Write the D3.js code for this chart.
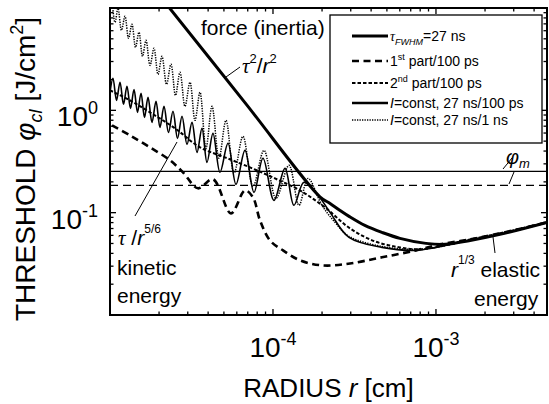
<!DOCTYPE html>
<html>
<head>
<meta charset="utf-8">
<script src="https://cdn.jsdelivr.net/npm/d3@7"></script>
<style>
body { margin: 0; background: #fff; }
svg text { font-family: "Liberation Sans", Arial, Helvetica, sans-serif; fill: #000; }
</style>
</head>
<body>
<script>
// radius r [cm] , threshold phi_cl [J/cm^2]

// tau_FWHM = 27 ns : force (inertia) line tau^2/r^2, then elastic branch
var tauFwhm = [
    [2.2e-5, 11.1], [6.73e-5, 1.19], [1.94e-4, 0.143], [2.24e-4, 0.123], [2.58e-4, 0.105],
    [2.93e-4, 0.092], [3.66e-4, 0.0751], [4.66e-4, 0.0642], [6.01e-4, 0.0561],
    [8.68e-4, 0.0501], [1.14e-3, 0.0490], [1.62e-3, 0.0535], [2.47e-3, 0.0614], [4.8e-3, 0.0804]
];

// 1st part / 100 ps
var part1 = [
    [1.029e-5, 0.714], [1.326e-5, 0.570], [1.760e-5, 0.435], [2.334e-5, 0.325], [2.804e-5, 0.248],
    [3.467e-5, 0.173], [4.284e-5, 0.212], [5.524e-5, 0.0985], [6.733e-5, 0.165], [7.540e-5, 0.141],
    [8.323e-5, 0.0841], [9.585e-5, 0.0536], [1.152e-4, 0.0428], [1.464e-4, 0.0342],
    [2.026e-4, 0.0305], [2.968e-4, 0.0319], [4.665e-4, 0.0366], [7.54e-4, 0.0428],
    [1.058e-3, 0.0490], [1.617e-3, 0.0548], [2.47e-3, 0.0628], [4.8e-3, 0.0804]
];

// 2nd part / 100 ps
var part2 = [
    [1.0e-5, 1.568], [1.326e-5, 1.252], [1.760e-5, 0.956], [2.505e-5, 0.667], [3.566e-5, 0.435],
    [5.076e-5, 0.347], [7.225e-5, 0.277], [1.029e-4, 0.216], [1.464e-4, 0.165], [2.084e-4, 0.1126],
    [2.968e-4, 0.0702], [4.225e-4, 0.0524], [6.013e-4, 0.0458], [7.98e-4, 0.0438],
    [1.058e-3, 0.0468], [1.617e-3, 0.0548], [2.47e-3, 0.0628], [4.8e-3, 0.0804]
];

// I = const, 27 ns / 100 ps
var iConst100ps = [
    [1.000e-5, 1.50], [1.043e-5, 2.06], [1.096e-5, 1.25], [1.152e-5, 1.88], [1.210e-5, 1.145],
    [1.271e-5, 1.72], [1.336e-5, 1.046], [1.404e-5, 1.60], [1.475e-5, 0.956], [1.550e-5, 1.47],
    [1.628e-5, 0.854], [1.711e-5, 1.34], [1.810e-5, 0.763], [1.915e-5, 1.224], [2.026e-5, 0.682],
    [2.144e-5, 1.094], [2.285e-5, 0.609], [2.435e-5, 0.978], [2.595e-5, 0.532], [2.766e-5, 0.874],
    [2.968e-5, 0.465], [3.185e-5, 0.763], [3.418e-5, 0.388], [3.668e-5, 0.667], [3.937e-5, 0.310],
    [4.284e-5, 0.596], [4.730e-5, 0.248], [5.296e-5, 0.476], [5.929e-5, 0.189], [6.733e-5, 0.406],
    [7.646e-5, 0.158], [8.684e-5, 0.340], [1.014e-4, 0.132], [1.185e-4, 0.271], [1.345e-4, 0.118],
    [1.549e-4, 0.198], [1.889e-4, 0.148], [2.238e-4, 0.1007], [2.926e-4, 0.0574],
    [4.665e-4, 0.0458], [7.54e-4, 0.0428], [1.0e-3, 0.0458], [1.404e-3, 0.0513],
    [2.47e-3, 0.0614], [4.8e-3, 0.0804]
];

// I = const, 27 ns / 1 ns
var iConst1ns = [
    [1.029e-5, 11.89], [1.073e-5, 7.25], [1.120e-5, 9.93], [1.176e-5, 6.05], [1.236e-5, 8.30],
    [1.299e-5, 5.06], [1.364e-5, 6.93], [1.434e-5, 4.13], [1.506e-5, 5.79], [1.583e-5, 3.37],
    [1.663e-5, 4.83], [1.760e-5, 2.75], [1.862e-5, 4.04], [1.970e-5, 2.25], [2.084e-5, 3.37],
    [2.222e-5, 1.796], [2.367e-5, 2.82], [2.523e-5, 1.401], [2.688e-5, 2.35], [2.885e-5, 1.094],
    [3.096e-5, 1.878], [3.323e-5, 0.798], [3.566e-5, 1.500], [3.881e-5, 0.425], [4.226e-5, 1.094],
    [4.664e-5, 0.340], [5.149e-5, 0.798], [5.765e-5, 0.242], [6.546e-5, 0.557], [7.540e-5, 0.181],
    [8.807e-5, 0.406], [1.043e-4, 0.138], [1.254e-4, 0.290], [1.444e-4, 0.118], [1.640e-4, 0.216],
    [1.998e-4, 0.118], [2.402e-4, 0.0804], [2.926e-4, 0.0587], [4.665e-4, 0.0468],
    [7.54e-4, 0.0438], [1.0e-3, 0.0458], [1.404e-3, 0.0513], [2.47e-3, 0.0614], [4.8e-3, 0.0804]
];

// horizontal levels phi_m
var phiMSolid = 0.253;
var phiMDashed = 0.185;

var xDomain = [1e-5, 4.8e-3];
var yDomain = [0.01, 10];
var xTickLabels = [["10", "-4", 1e-4], ["10", "-3", 1e-3]];
var yTickLabels = [["10", "0", 1], ["10", "-1", 0.1]];

var series = [
    { data: part2, width: 2, dash: "3.5,2" },
    { data: iConst1ns, width: 1.5, dash: "1.3,1.2" },
    { data: iConst100ps, width: 1.6, dash: null },
    { data: part1, width: 2.6, dash: "7,4.5" },
    { data: tauFwhm, width: 3, dash: null }
];

var legendRows = [
    { width: 3, dash: null },
    { width: 2.6, dash: "7,4.5" },
    { width: 2, dash: "3.5,2" },
    { width: 2.6, dash: null },
    { width: 1.3, dash: "1.3,1.2" }
];

var W = 549, H = 404;
var pLeft = 110, pRight = 547, pTop = 8, pBottom = 315;

var svg = d3.select("body").append("svg")
    .attr("width", W)
    .attr("height", H);

var x = d3.scaleLog().domain(xDomain).range([pLeft, pRight]);
var y = d3.scaleLog().domain(yDomain).range([pBottom, pTop]);

svg.append("clipPath").attr("id", "plotclip")
    .append("rect")
    .attr("x", pLeft).attr("y", pTop)
    .attr("width", pRight - pLeft).attr("height", pBottom - pTop);

var plot = svg.append("g").attr("clip-path", "url(#plotclip)");

// phi_m lines
plot.append("line")
    .attr("x1", pLeft).attr("x2", pRight)
    .attr("y1", y(phiMSolid)).attr("y2", y(phiMSolid))
    .attr("stroke", "#000").attr("stroke-width", 1.4);
plot.append("line")
    .attr("x1", pLeft).attr("x2", pRight)
    .attr("y1", y(phiMDashed)).attr("y2", y(phiMDashed))
    .attr("stroke", "#000").attr("stroke-width", 1.4)
    .attr("stroke-dasharray", "8,5");

var line = d3.line()
    .x(function(d) { return x(d[0]); })
    .y(function(d) { return y(d[1]); })
    .curve(d3.curveCatmullRom.alpha(0.5));

series.forEach(function(s) {
    plot.append("path")
        .attr("d", line(s.data))
        .attr("fill", "none")
        .attr("stroke", "#000")
        .attr("stroke-width", s.width)
        .attr("stroke-linejoin", "round")
        .attr("stroke-dasharray", s.dash);
});

// frame
svg.append("rect")
    .attr("x", pLeft).attr("y", pTop)
    .attr("width", pRight - pLeft).attr("height", pBottom - pTop)
    .attr("fill", "none").attr("stroke", "#000").attr("stroke-width", 2);

function isMajor(d) {
    var l = Math.log10(d);
    return Math.abs(l - Math.round(l)) < 1e-6;
}

var ticks = svg.append("g").attr("stroke", "#000").attr("stroke-width", 1.3);
x.ticks().forEach(function(d) {
    var len = isMajor(d) ? 6 : 3.5, px = x(d);
    ticks.append("line").attr("x1", px).attr("x2", px).attr("y1", pBottom).attr("y2", pBottom - len);
    ticks.append("line").attr("x1", px).attr("x2", px).attr("y1", pTop).attr("y2", pTop + len);
});
y.ticks().forEach(function(d) {
    var len = isMajor(d) ? 6 : 3.5, py = y(d);
    ticks.append("line").attr("y1", py).attr("y2", py).attr("x1", pLeft).attr("x2", pLeft + len);
    ticks.append("line").attr("y1", py).attr("y2", py).attr("x1", pRight).attr("x2", pRight - len);
});

// tick labels
xTickLabels.forEach(function(t) {
    var tx = svg.append("text")
        .attr("x", x(t[2])).attr("y", 357)
        .attr("text-anchor", "middle")
        .style("font-size", "28px");
    tx.append("tspan").text(t[0]);
    tx.append("tspan").attr("dy", -12).style("font-size", "18px").text(t[1]);
});
yTickLabels.forEach(function(t) {
    var ty = svg.append("text")
        .attr("x", 98).attr("y", y(t[2]) + 16)
        .attr("text-anchor", "end")
        .style("font-size", "28px");
    ty.append("tspan").text(t[0]);
    ty.append("tspan").attr("dy", -12).style("font-size", "18px").text(t[1]);
});

// axis titles
var xt = svg.append("text")
    .attr("x", (pLeft + pRight) / 2).attr("y", 397)
    .attr("text-anchor", "middle")
    .style("font-size", "26px");
xt.append("tspan").text("RADIUS ");
xt.append("tspan").style("font-style", "italic").text("r");
xt.append("tspan").text(" [cm]");

var yt = svg.append("text")
    .attr("transform", "translate(35,169) rotate(-90)")
    .attr("text-anchor", "middle")
    .style("font-size", "28px");
yt.append("tspan").text("THRESHOLD ");
yt.append("tspan").style("font-style", "italic").text("\u03C6");
yt.append("tspan").attr("dy", 7).style("font-size", "18px").style("font-style", "italic").text("cl");
yt.append("tspan").attr("dy", -7).text(" [J/cm");
yt.append("tspan").attr("dy", -12).style("font-size", "18px").text("2");
yt.append("tspan").attr("dy", 12).text("]");

// annotations
var ann = svg.append("g");
ann.append("text").attr("x", 201).attr("y", 35).style("font-size", "21px").text("force (inertia)");

var t1 = ann.append("text").attr("x", 242).attr("y", 73).style("font-size", "21px");
t1.append("tspan").style("font-family", "'Liberation Serif', serif").style("font-style", "italic").text("\u03C4");
t1.append("tspan").attr("dy", -10).style("font-size", "13px").text("2");
t1.append("tspan").attr("dy", 10).text("/");
t1.append("tspan").style("font-style", "italic").text("r");
t1.append("tspan").attr("dy", -10).style("font-size", "13px").text("2");

var t2 = ann.append("text").attr("x", 118).attr("y", 245).style("font-size", "21px");
t2.append("tspan").style("font-family", "'Liberation Serif', serif").style("font-style", "italic").text("\u03C4");
t2.append("tspan").text(" /");
t2.append("tspan").style("font-style", "italic").text("r");
t2.append("tspan").attr("dy", -12).style("font-size", "12px").text("5/6");
ann.append("text").attr("x", 117).attr("y", 275).style("font-size", "21px").text("kinetic");
ann.append("text").attr("x", 117).attr("y", 303).style("font-size", "21px").text("energy");

var t3 = ann.append("text").attr("x", 451).attr("y", 277).style("font-size", "21px");
t3.append("tspan").style("font-style", "italic").text("r");
t3.append("tspan").attr("dy", -13).style("font-size", "12px").text("1/3");
t3.append("tspan").attr("dy", 13).text(" elastic");
ann.append("text").attr("x", 474).attr("y", 306).style("font-size", "21px").text("energy");

var t4 = ann.append("text").attr("x", 506).attr("y", 164).style("font-size", "20px");
t4.append("tspan").style("font-style", "italic").text("\u03C6");
t4.append("tspan").attr("dy", 4).style("font-size", "13px").style("font-style", "italic").text("m");

// leader lines
var leaders = [
    [226, 77, 240, 67],
    [135, 216, 177, 142],
    [495, 253, 493, 237],
    [503, 169, 512, 158],
    [509, 184, 514, 172]
];
leaders.forEach(function(l) {
    ann.append("line")
        .attr("x1", l[0]).attr("y1", l[1]).attr("x2", l[2]).attr("y2", l[3])
        .attr("stroke", "#000").attr("stroke-width", 1);
});

// legend
var lg = svg.append("g");
lg.append("rect")
    .attr("x", 330).attr("y", 15).attr("width", 212).attr("height", 128)
    .attr("fill", "#fff").attr("stroke", "#000").attr("stroke-width", 1.3);

var rowY = [36, 61, 83, 103, 120];
legendRows.forEach(function(r, i) {
    lg.append("line")
        .attr("x1", 352).attr("x2", 388)
        .attr("y1", rowY[i]).attr("y2", rowY[i])
        .attr("stroke", "#000").attr("stroke-width", r.width)
        .attr("stroke-dasharray", r.dash);
});

function legText(i) {
    return lg.append("text").attr("x", 390).attr("y", rowY[i] + 5).style("font-size", "14px");
}
var l0 = legText(0);
l0.append("tspan").style("font-family", "'Liberation Serif', serif").style("font-style", "italic").text("\u03C4");
l0.append("tspan").attr("dy", 4).style("font-size", "9px").style("font-style", "italic").text("FWHM");
l0.append("tspan").attr("dy", -4).text("=27 ns");
var l1 = legText(1);
l1.append("tspan").text("1");
l1.append("tspan").attr("dy", -6).style("font-size", "9px").text("st");
l1.append("tspan").attr("dy", 6).text(" part/100 ps");
var l2 = legText(2);
l2.append("tspan").text("2");
l2.append("tspan").attr("dy", -6).style("font-size", "9px").text("nd");
l2.append("tspan").attr("dy", 6).text(" part/100 ps");
var l3 = legText(3);
l3.append("tspan").style("font-style", "italic").text("I");
l3.append("tspan").text("=const, 27 ns/100 ps");
var l4 = legText(4);
l4.append("tspan").style("font-style", "italic").text("I");
l4.append("tspan").text("=const, 27 ns/1 ns");
</script>
</body>
</html>
